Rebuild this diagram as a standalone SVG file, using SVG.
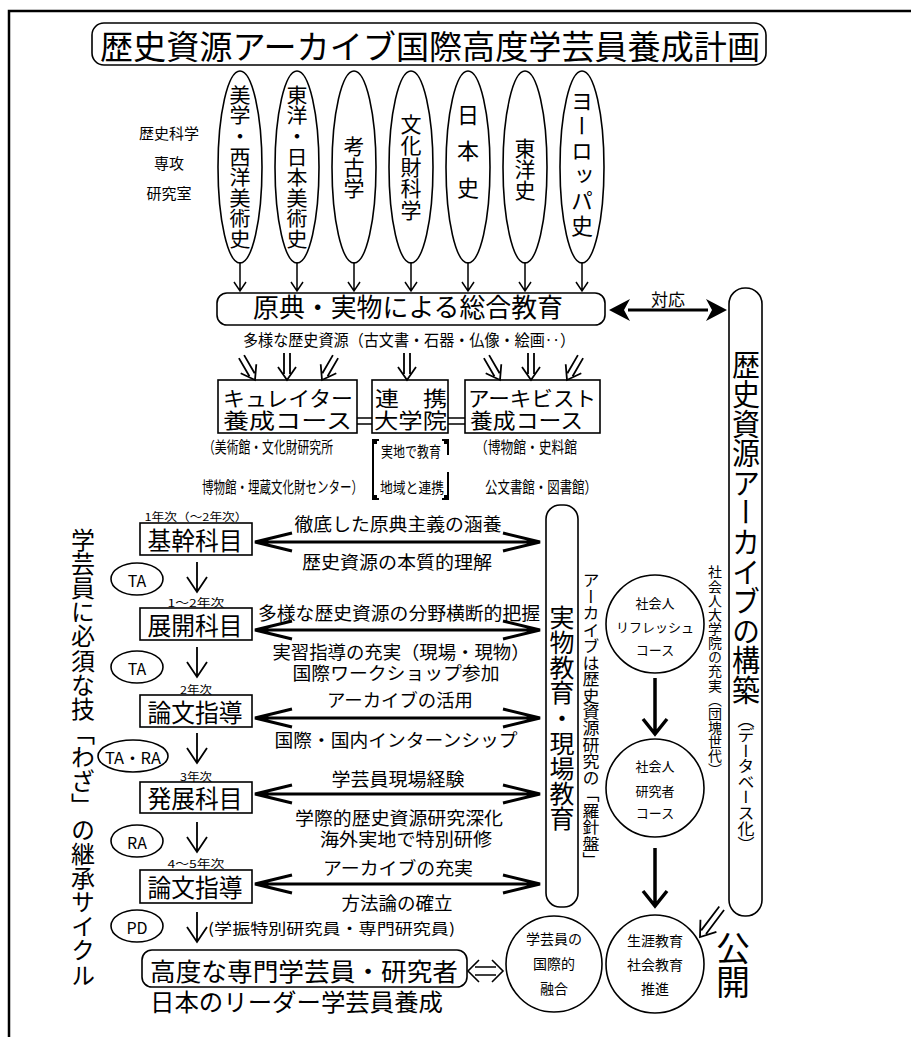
<svg xmlns="http://www.w3.org/2000/svg" xmlns:xlink="http://www.w3.org/1999/xlink" width="911" height="1037" viewBox="0 0 911 1037">
<style>
text{font-family:"Noto Sans CJK JP","Noto Sans CJK SC",sans-serif;fill:#000}
.v{writing-mode:vertical-rl;text-anchor:middle}
.c{text-anchor:middle}
.s{fill:#fff;stroke:#000;stroke-width:1.6}
.ln{fill:none;stroke:#000;stroke-width:1.6}
.th{fill:none;stroke:#000;stroke-width:3}
.mid{dominant-baseline:central;text-anchor:middle}
</style>
<defs>
<g id="dbl" fill="none" stroke="#000" stroke-width="1.8">
<path d="M-3,-27 V-6 M3,-27 V-6 M-9,-13 L0,0 L9,-13"/>
</g>
<g id="dbl2" fill="none" stroke="#000" stroke-width="1.8">
<path d="M-3,-36 V-6 M3,-36 V-6 M-10,-14 L0,0 L10,-14"/>
</g>
<g id="dn" fill="none" stroke="#000" stroke-width="1.8">
<path d="M0,-30 V0 M-10,-15 L0,0 L10,-15"/>
</g>
<g id="sdn" fill="none" stroke="#000" stroke-width="1.5">
<path d="M0,-29 V0 M-6,-9 L0,0 L6,-9"/>
</g>
</defs>
<rect width="911" height="1037" fill="#fff"/>
<path d="M9,1037 V11 H911" fill="none" stroke="#000" stroke-width="2.5"/>

<g id="title">
<rect x="92" y="23" width="674" height="42" rx="12" class="s"/>
<text x="100" y="59" font-size="33" textLength="660" lengthAdjust="spacingAndGlyphs">歴史資源アーカイブ国際高度学芸員養成計画</text>
</g>

<g id="label-lab">
<text x="169" y="139" font-size="15" class="c">歴史科学</text>
<text x="169" y="169" font-size="15" class="c">専攻</text>
<text x="169" y="199" font-size="15" class="c">研究室</text>
</g>

<g id="labs">
<g id="lab1"><ellipse cx="240" cy="167" rx="22" ry="96" class="s"/><text x="240" y="167" font-size="21" class="v" textLength="165" lengthAdjust="spacingAndGlyphs">美学・西洋美術史</text></g>
<g id="lab2"><ellipse cx="297" cy="167" rx="22" ry="96" class="s"/><text x="297" y="167" font-size="21" class="v" textLength="165" lengthAdjust="spacingAndGlyphs">東洋・日本美術史</text></g>
<g id="lab3"><ellipse cx="354" cy="167" rx="22" ry="96" class="s"/><text x="354" y="167" font-size="21" class="v">考古学</text></g>
<g id="lab4"><ellipse cx="411" cy="167" rx="22" ry="96" class="s"/><text x="411" y="167" font-size="21" class="v" textLength="107">文化財科学</text></g>
<g id="lab5"><ellipse cx="468" cy="167" rx="22" ry="96" class="s"/><text x="468" y="151" font-size="22" class="v" textLength="95">日本史</text></g>
<g id="lab6"><ellipse cx="525" cy="167" rx="22" ry="96" class="s"/><text x="525" y="169" font-size="21" class="v">東洋史</text></g>
<g id="lab7"><ellipse cx="582" cy="167" rx="22" ry="96" class="s"/><text x="582" y="163" font-size="22" class="v" textLength="147">ヨーロッパ史</text></g>
</g>

<g id="sogo">
<rect x="217" y="293" width="388" height="32" rx="10" class="s"/>
<text x="253" y="317" font-size="26" textLength="310" lengthAdjust="spacingAndGlyphs">原典・実物による総合教育</text>
</g>
<text x="243" y="346" font-size="16" textLength="332" lengthAdjust="spacingAndGlyphs">多様な歴史資源（古文書・石器・仏像・絵画‥）</text>

<g id="curator">
<rect x="218" y="380" width="139" height="53" class="s"/>
<text x="223" y="406" font-size="21" textLength="130" lengthAdjust="spacingAndGlyphs">キュレイター</text>
<text x="223" y="428" font-size="21" textLength="129" lengthAdjust="spacingAndGlyphs">養成コース</text>
</g>
<g id="renkei">
<rect x="372" y="380" width="76" height="53" class="s"/>
<text x="375" y="406" font-size="21" textLength="72" lengthAdjust="spacingAndGlyphs">連　携</text>
<text x="374" y="428" font-size="21" textLength="73" lengthAdjust="spacingAndGlyphs">大学院</text>
</g>
<g id="archivist">
<rect x="465" y="380" width="135" height="53" class="s"/>
<text x="468" y="406" font-size="21" textLength="128" lengthAdjust="spacingAndGlyphs">アーキビスト</text>
<text x="470" y="428" font-size="21" textLength="113" lengthAdjust="spacingAndGlyphs">養成コース</text>
</g>
<text x="203" y="453" font-size="16" textLength="130" lengthAdjust="spacingAndGlyphs">（美術館・文化財研究所</text>
<text x="202" y="493" font-size="16" textLength="161" lengthAdjust="spacingAndGlyphs">博物館・埋蔵文化財センター）</text>
<text x="475" y="453" font-size="16" textLength="102" lengthAdjust="spacingAndGlyphs">（博物館・史料館</text>
<text x="485" y="493" font-size="16" textLength="112" lengthAdjust="spacingAndGlyphs">公文書館・図書館）</text>
<g id="jitchi">
<path d="M379,440 H373 V499 H379 M442,440 H448 V455 M448,472 V499 H442" fill="none" stroke="#000" stroke-width="2"/>
<rect x="373" y="440" width="4" height="4"/><rect x="444" y="440" width="4" height="4"/>
<rect x="373" y="495" width="4" height="4"/><rect x="444" y="495" width="4" height="4"/>
<text x="411" y="457" font-size="15" class="c" textLength="60" lengthAdjust="spacingAndGlyphs">実地で教育</text>
<text x="412" y="493" font-size="15" class="c" textLength="64" lengthAdjust="spacingAndGlyphs">地域と連携</text>
</g>

<g id="archive-build">
<rect x="729" y="288" width="33" height="628" rx="16" class="s"/>
<text x="746" y="527" font-size="28" class="v" textLength="355" lengthAdjust="spacingAndGlyphs">歴史資源アーカイブの構築</text>
<text x="746" y="782" font-size="17" class="v" textLength="140" lengthAdjust="spacingAndGlyphs">（データベース化）</text>
</g>
<text x="715" y="671" font-size="14" class="v" textLength="212" lengthAdjust="spacingAndGlyphs">社会人大学院の充実（団塊世代）</text>

<g id="jitsubutsu">
<rect x="546" y="505" width="32" height="402" rx="14" class="s"/>
<text x="562" y="718" font-size="25" class="v" textLength="227" lengthAdjust="spacingAndGlyphs">実物教育・現場教育</text>
</g>
<text x="591" y="720" font-size="17" class="v" textLength="296" lengthAdjust="spacingAndGlyphs">アーカイブは歴史資源研究の「羅針盤」</text>

<text x="83" y="757" font-size="24" class="v" textLength="459" lengthAdjust="spacingAndGlyphs">学芸員に必須な技「わざ」の継承サイクル</text>

<g id="years" font-size="11">
<text x="196" y="521" class="c" textLength="103" lengthAdjust="spacingAndGlyphs">1年次（～2年次）</text>
<text x="196" y="607" class="c" textLength="57" lengthAdjust="spacingAndGlyphs">1～2年次</text>
<text x="196" y="694" class="c" textLength="32" lengthAdjust="spacingAndGlyphs">2年次</text>
<text x="196" y="781" class="c" textLength="32" lengthAdjust="spacingAndGlyphs">3年次</text>
<text x="196" y="868" class="c" textLength="57" lengthAdjust="spacingAndGlyphs">4～5年次</text>
</g>

<g id="kikan"><rect x="140" y="523" width="112" height="32" class="s"/><text x="195" y="550" font-size="25" class="c" textLength="95" lengthAdjust="spacingAndGlyphs">基幹科目</text></g>
<g id="tenkai"><rect x="140" y="608" width="112" height="32" class="s"/><text x="195" y="635" font-size="25" class="c" textLength="95" lengthAdjust="spacingAndGlyphs">展開科目</text></g>
<g id="ronbun1"><rect x="140" y="695" width="112" height="32" class="s"/><text x="195" y="722" font-size="25" class="c" textLength="95" lengthAdjust="spacingAndGlyphs">論文指導</text></g>
<g id="hatten"><rect x="140" y="782" width="112" height="31" class="s"/><text x="195" y="808" font-size="25" class="c" textLength="95" lengthAdjust="spacingAndGlyphs">発展科目</text></g>
<g id="ronbun2"><rect x="140" y="870" width="112" height="33" class="s"/><text x="195" y="897" font-size="25" class="c" textLength="95" lengthAdjust="spacingAndGlyphs">論文指導</text></g>

<g id="ta1"><ellipse cx="137" cy="579" rx="26" ry="16" class="s"/><text x="137" y="580" font-size="16" class="mid">TA</text></g>
<g id="ta2"><ellipse cx="137" cy="667" rx="26" ry="16" class="s"/><text x="137" y="668" font-size="16" class="mid">TA</text></g>
<g id="tara"><ellipse cx="133" cy="756" rx="35" ry="16" class="s"/><text x="133" y="757" font-size="16" class="mid" textLength="56" lengthAdjust="spacingAndGlyphs">TA・RA</text></g>
<g id="ra"><ellipse cx="137" cy="841" rx="26" ry="16" class="s"/><text x="137" y="842" font-size="16" class="mid">RA</text></g>
<g id="pd"><ellipse cx="137" cy="926" rx="26" ry="16" class="s"/><text x="137" y="927" font-size="16" class="mid">PD</text></g>

<text x="208" y="934" font-size="15" textLength="247" lengthAdjust="spacingAndGlyphs">(学振特別研究員・専門研究員)</text>

<g id="kodo">
<rect x="142" y="950" width="325" height="37" rx="10" class="s"/>
<text x="150" y="981" font-size="25" textLength="308" lengthAdjust="spacingAndGlyphs">高度な専門学芸員・研究者</text>
</g>
<text x="150" y="1011" font-size="24" textLength="293" lengthAdjust="spacingAndGlyphs">日本のリーダー学芸員養成</text>

<g id="arrow-labels" font-size="18">
<text x="398" y="531" class="c" textLength="207" lengthAdjust="spacingAndGlyphs">徹底した原典主義の涵養</text>
<text x="397" y="569" class="c" textLength="190" lengthAdjust="spacingAndGlyphs">歴史資源の本質的理解</text>
<text x="399" y="620" class="c" textLength="282" lengthAdjust="spacingAndGlyphs">多様な歴史資源の分野横断的把握</text>
<text x="401" y="659" class="c" textLength="257" lengthAdjust="spacingAndGlyphs">実習指導の充実（現場・現物）</text>
<text x="396" y="680" class="c" textLength="207" lengthAdjust="spacingAndGlyphs">国際ワークショップ参加</text>
<text x="400" y="707" class="c" textLength="146" lengthAdjust="spacingAndGlyphs">アーカイブの活用</text>
<text x="396" y="747" class="c" textLength="243" lengthAdjust="spacingAndGlyphs">国際・国内インターンシップ</text>
<text x="398" y="786" class="c" textLength="133" lengthAdjust="spacingAndGlyphs">学芸員現場経験</text>
<text x="399" y="825" class="c" textLength="208" lengthAdjust="spacingAndGlyphs">学際的歴史資源研究深化</text>
<text x="406" y="846" class="c" textLength="172" lengthAdjust="spacingAndGlyphs">海外実地で特別研修</text>
<text x="398" y="875" class="c" textLength="150" lengthAdjust="spacingAndGlyphs">アーカイブの充実</text>
<text x="397" y="910" class="c" textLength="111" lengthAdjust="spacingAndGlyphs">方法論の確立</text>
</g>
<text x="668" y="306" font-size="17" class="c">対応</text>

<g id="circles">
<g id="refresh"><circle cx="655" cy="624" r="49" class="s"/>
<text x="655" y="602" font-size="13" class="mid">社会人</text><text x="655" y="626" font-size="13" class="mid">リフレッシュ</text><text x="655" y="649" font-size="13" class="mid">コース</text></g>
<g id="kenkyusha"><circle cx="655" cy="788" r="49" class="s"/>
<text x="655" y="765" font-size="13" class="mid">社会人</text><text x="655" y="790" font-size="13" class="mid">研究者</text><text x="655" y="812" font-size="13" class="mid">コース</text></g>
<g id="shogai"><circle cx="655" cy="964" r="49" class="s"/>
<text x="655" y="940" font-size="14" class="mid">生涯教育</text><text x="655" y="964" font-size="14" class="mid">社会教育</text><text x="655" y="988" font-size="14" class="mid">推進</text></g>
<g id="kokusai"><circle cx="554" cy="964" r="48" class="s"/>
<text x="554" y="938" font-size="14" class="mid">学芸員の</text><text x="554" y="963" font-size="14" class="mid">国際的</text><text x="554" y="988" font-size="14" class="mid">融合</text></g>
</g>
<text x="733" y="965" font-size="34" class="v">公開</text>

<g id="connectors">
<use xlink:href="#sdn" transform="translate(240,291)"/>
<use xlink:href="#sdn" transform="translate(297,291)"/>
<use xlink:href="#sdn" transform="translate(354,291)"/>
<use xlink:href="#sdn" transform="translate(411,291)"/>
<use xlink:href="#sdn" transform="translate(468,291)"/>
<use xlink:href="#sdn" transform="translate(525,291)"/>
<use xlink:href="#sdn" transform="translate(582,291)"/>
<path d="M628,310 H708" class="th"/>
<path d="M609,310 L630,299 L624,310 L630,321 Z M727,310 L706,299 L712,310 L706,321 Z"/>
<use xlink:href="#dbl" transform="translate(255,380) rotate(-30)"/>
<use xlink:href="#dbl" transform="translate(287,380)"/>
<use xlink:href="#dbl" transform="translate(322,380) rotate(30)"/>
<use xlink:href="#dbl" transform="translate(407,380)"/>
<use xlink:href="#dbl" transform="translate(500,380) rotate(-30)"/>
<use xlink:href="#dbl" transform="translate(531,380)"/>
<use xlink:href="#dbl" transform="translate(567,380) rotate(30)"/>
<path d="M357,418 H372 M357,424 H372 M448,418 H465 M448,424 H465" class="ln"/>
<use xlink:href="#dn" transform="translate(197,592)"/>
<use xlink:href="#dn" transform="translate(197,677)"/>
<use xlink:href="#dn" transform="translate(197,763)"/>
<use xlink:href="#dn" transform="translate(197,852)"/>
<use xlink:href="#dn" transform="translate(197,942)"/>
<g class="th">
<path d="M255,542 H540 M292,533 L255,542 L292,551 M503,533 L540,542 L503,551"/>
<path d="M255,630 H540 M292,621 L255,630 L292,639 M503,621 L540,630 L503,639"/>
<path d="M255,718 H540 M292,709 L255,718 L292,727 M503,709 L540,718 L503,727"/>
<path d="M255,794 H540 M292,785 L255,794 L292,803 M503,785 L540,794 L503,803"/>
<path d="M255,884 H540 M292,875 L255,884 L292,893 M503,875 L540,884 L503,893"/>
</g>
<path d="M475,967 H496 M475,975 H496 M479,960 L468,971 L479,982 M492,960 L503,971 L492,982" class="ln"/>
<g fill="none" stroke="#000" stroke-width="3.5">
<path d="M655,678 V733 M643,719 L655,734 L667,719"/>
<path d="M655,848 V905 M643,891 L655,906 L667,891"/>
</g>
<use xlink:href="#dbl2" transform="translate(700,937) rotate(37)"/>
</g>
</svg>
